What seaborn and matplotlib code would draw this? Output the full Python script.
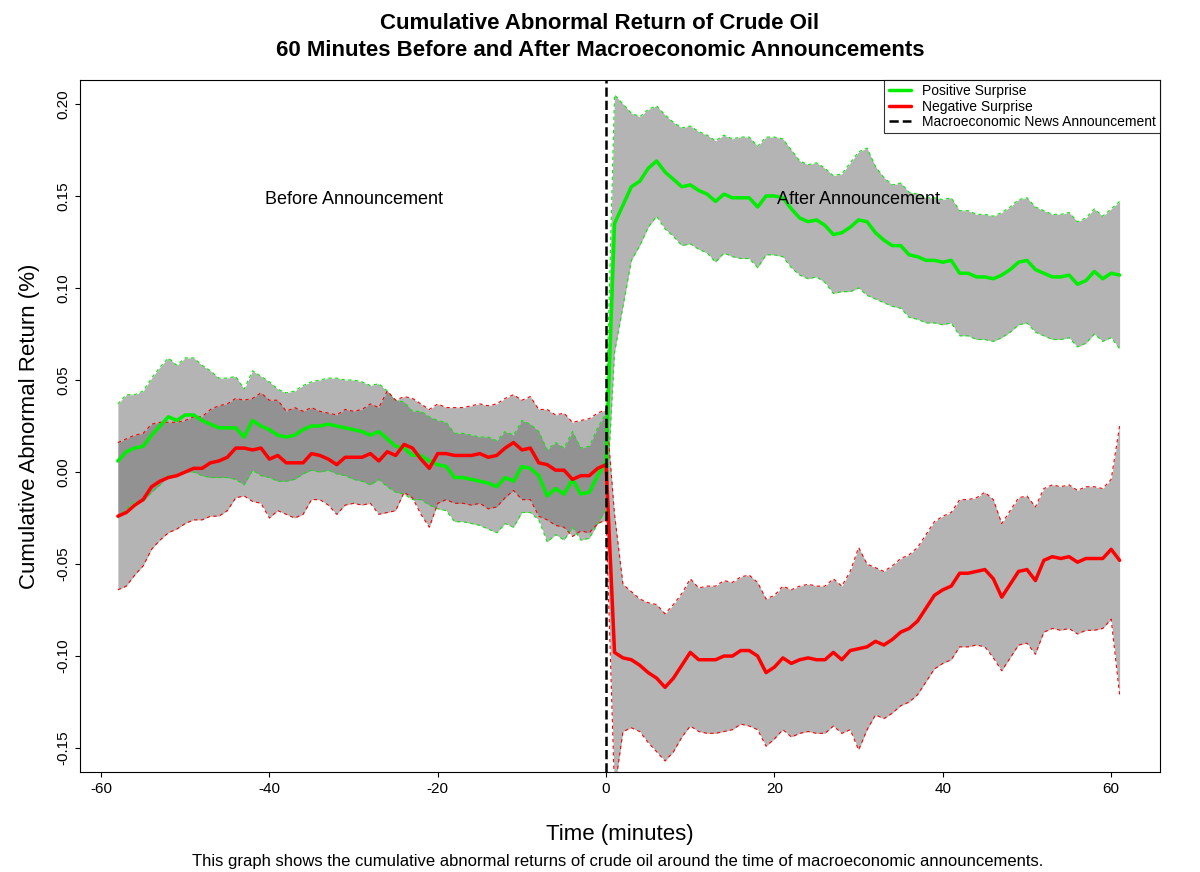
import matplotlib.pyplot as plt
import seaborn as sns
import pandas as pd

minutes = list(range(-58, 62))

pos_mean = [0.006, 0.011, 0.013, 0.014, 0.020, 0.025, 0.030, 0.028, 0.031, 0.031,
            0.028, 0.026, 0.024, 0.024, 0.024, 0.019, 0.028, 0.025, 0.023, 0.020,
            0.019, 0.020, 0.023, 0.025, 0.025, 0.026, 0.025, 0.024, 0.023, 0.022,
            0.020, 0.022, 0.018, 0.014, 0.013, 0.009, 0.009, 0.006, 0.004, 0.003,
            -0.003, -0.003, -0.004, -0.005, -0.006, -0.008, -0.003, -0.005, 0.003, 0.002,
            -0.002, -0.013, -0.009, -0.012, -0.004, -0.012, -0.011, -0.002, 0.006,
            0.135, 0.145, 0.155, 0.158, 0.165, 0.169, 0.163, 0.159, 0.155, 0.156,
            0.153, 0.151, 0.147, 0.151, 0.149, 0.149, 0.149, 0.144, 0.150, 0.150,
            0.149, 0.143, 0.138, 0.136, 0.137, 0.134, 0.129, 0.130, 0.133, 0.137,
            0.136, 0.130, 0.126, 0.123, 0.123, 0.118, 0.117, 0.115, 0.115, 0.114,
            0.115, 0.108, 0.108, 0.106, 0.106, 0.105, 0.107, 0.110, 0.114, 0.115,
            0.110, 0.108, 0.106, 0.106, 0.107, 0.102, 0.104, 0.109, 0.105, 0.108, 0.107]

pos_hw = [0.031, 0.031, 0.029, 0.030, 0.031, 0.032, 0.032, 0.030, 0.031, 0.031,
          0.030, 0.029, 0.027, 0.027, 0.028, 0.026, 0.027, 0.027, 0.026, 0.025,
          0.024, 0.024, 0.024, 0.024, 0.025, 0.025, 0.026, 0.026, 0.027, 0.027,
          0.027, 0.026, 0.026, 0.025, 0.025, 0.024, 0.024, 0.024, 0.024, 0.024,
          0.024, 0.024, 0.024, 0.024, 0.025, 0.025, 0.025, 0.025, 0.025, 0.024,
          0.024, 0.025, 0.025, 0.025, 0.026, 0.025, 0.025, 0.026, 0.026,
          0.070, 0.055, 0.040, 0.035, 0.032, 0.030, 0.031, 0.031, 0.032, 0.032,
          0.032, 0.032, 0.033, 0.032, 0.032, 0.033, 0.033, 0.033, 0.032, 0.032,
          0.032, 0.032, 0.031, 0.031, 0.031, 0.031, 0.032, 0.032, 0.035, 0.037,
          0.040, 0.036, 0.034, 0.033, 0.034, 0.034, 0.034, 0.034, 0.034, 0.034,
          0.034, 0.034, 0.034, 0.034, 0.034, 0.034, 0.034, 0.034, 0.034, 0.034,
          0.034, 0.034, 0.034, 0.034, 0.034, 0.034, 0.034, 0.034, 0.034, 0.035, 0.040]

neg_mean = [-0.024, -0.022, -0.018, -0.015, -0.008, -0.005, -0.003, -0.002, 0.000, 0.002,
            0.002, 0.005, 0.006, 0.008, 0.013, 0.013, 0.012, 0.013, 0.007, 0.009,
            0.005, 0.005, 0.005, 0.010, 0.009, 0.007, 0.004, 0.008, 0.008, 0.008,
            0.010, 0.006, 0.011, 0.009, 0.015, 0.013, 0.007, 0.002, 0.010, 0.010,
            0.009, 0.009, 0.009, 0.010, 0.008, 0.009, 0.013, 0.016, 0.012, 0.013,
            0.005, 0.004, 0.001, 0.001, -0.004, -0.002, -0.002, 0.002, 0.004,
            -0.098, -0.101, -0.102, -0.105, -0.109, -0.112, -0.117, -0.112, -0.105, -0.098,
            -0.102, -0.102, -0.102, -0.100, -0.100, -0.097, -0.097, -0.100, -0.109, -0.106,
            -0.101, -0.104, -0.102, -0.101, -0.102, -0.102, -0.098, -0.102, -0.097, -0.096,
            -0.095, -0.092, -0.094, -0.091, -0.087, -0.085, -0.081, -0.074, -0.067, -0.064,
            -0.062, -0.055, -0.055, -0.054, -0.053, -0.058, -0.068, -0.061, -0.054, -0.053,
            -0.059, -0.048, -0.046, -0.047, -0.046, -0.049, -0.047, -0.047, -0.047, -0.042, -0.048]

neg_hw = [0.040, 0.040, 0.038, 0.036, 0.034, 0.032, 0.030, 0.029, 0.028, 0.028,
          0.028, 0.029, 0.030, 0.029, 0.027, 0.026, 0.028, 0.030, 0.032, 0.030,
          0.028, 0.030, 0.028, 0.025, 0.024, 0.025, 0.027, 0.026, 0.025, 0.026,
          0.027, 0.029, 0.033, 0.030, 0.026, 0.027, 0.030, 0.032, 0.027, 0.025,
          0.026, 0.026, 0.027, 0.027, 0.028, 0.028, 0.027, 0.026, 0.027, 0.028,
          0.029, 0.030, 0.030, 0.031, 0.031, 0.030, 0.031, 0.030, 0.030,
          0.075, 0.040, 0.037, 0.036, 0.038, 0.040, 0.040, 0.040, 0.039, 0.040,
          0.039, 0.040, 0.040, 0.041, 0.040, 0.040, 0.041, 0.040, 0.040, 0.039,
          0.039, 0.040, 0.040, 0.040, 0.040, 0.040, 0.040, 0.040, 0.043, 0.055,
          0.045, 0.040, 0.040, 0.040, 0.040, 0.040, 0.040, 0.040, 0.040, 0.040,
          0.040, 0.040, 0.040, 0.040, 0.042, 0.043, 0.040, 0.040, 0.040, 0.040,
          0.040, 0.039, 0.039, 0.039, 0.039, 0.039, 0.039, 0.039, 0.038, 0.038, 0.073]

df = pd.DataFrame({'Minute': minutes, 'pos': pos_mean, 'pos_hw': pos_hw,
                   'neg': neg_mean, 'neg_hw': neg_hw})

sns.set_style('ticks')
plt.rcParams['font.family'] = ['Liberation Sans', 'DejaVu Sans']
plt.rcParams['axes.unicode_minus'] = False
plt.rcParams['text.color'] = 'black'
plt.rcParams['axes.labelcolor'] = 'black'
plt.rcParams['xtick.color'] = 'black'
plt.rcParams['ytick.color'] = 'black'

fig = plt.figure(figsize=(12, 8.72), dpi=100)
ax = fig.add_axes([80 / 1200, 1 - 772 / 872, 1080 / 1200, 692 / 872])

for col, colour in [('pos', '#00ee00'), ('neg', 'red')]:
    lo = df[col] - df[col + '_hw']
    hi = df[col] + df[col + '_hw']
    ax.fill_between(df['Minute'], lo, hi, color='#777777', alpha=0.55, linewidth=0)
    ax.plot(df['Minute'], lo, color=colour, lw=0.8, ls=(0, (3, 3)))
    ax.plot(df['Minute'], hi, color=colour, lw=0.8, ls=(0, (3, 3)))

sns.lineplot(data=df, x='Minute', y='pos', color='#00ee00', lw=2.5, ax=ax, label='Positive Surprise')
sns.lineplot(data=df, x='Minute', y='neg', color='red', lw=2.5, ax=ax, label='Negative Surprise')
ax.axvline(0, color='black', ls='--', lw=1.8, label='Macroeconomic News Announcement')

ax.set_xlim(-62.5, 65.8)
ax.set_ylim(-0.163, 0.213)
ax.set_xticks([-60, -40, -20, 0, 20, 40, 60])
ax.set_yticks([-0.15, -0.10, -0.05, 0.0, 0.05, 0.10, 0.15, 0.20])
ax.set_yticklabels(['-0.15', '-0.10', '-0.05', '0.00', '0.05', '0.10', '0.15', '0.20'],
                   rotation=90, va='center')
ax.tick_params(labelsize=11, color='black')
ax.set_xlabel('Time (minutes)', fontsize=16, labelpad=20)
ax.set_ylabel('Cumulative Abnormal Return (%)', fontsize=16, labelpad=12)
for s in ax.spines.values():
    s.set_linewidth(0.8)
    s.set_color('black')

ax.text(-30, 0.148, 'Before Announcement', ha='center', va='center', fontsize=13)
ax.text(30, 0.148, 'After Announcement', ha='center', va='center', fontsize=13)

leg = ax.legend(loc='upper right', bbox_to_anchor=(1.0, 1.0), fontsize=10,
                frameon=True, fancybox=False, edgecolor='black', borderpad=0.3,
                labelspacing=0.1, handlelength=1.6, borderaxespad=0)
leg.get_frame().set_linewidth(0.8)

fig.suptitle('Cumulative Abnormal Return of Crude Oil\n60 Minutes Before and After Macroeconomic Announcements',
             fontsize=16, fontweight='bold', y=0.985, linespacing=1.4)
fig.text(0.515, 0.004, 'This graph shows the cumulative abnormal returns of crude oil around the time of macroeconomic announcements.',
         ha='center', va='bottom', fontsize=12)

fig.savefig('out.png', dpi=100)
